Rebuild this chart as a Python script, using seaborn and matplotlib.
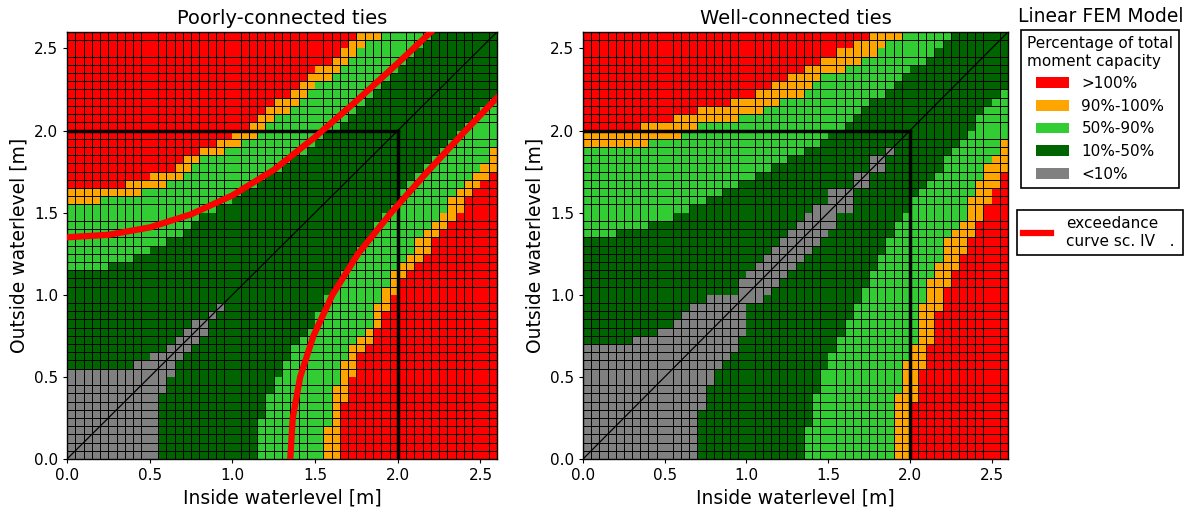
import numpy as np
import seaborn as sns
import matplotlib.pyplot as plt
from matplotlib.colors import ListedColormap
from matplotlib.patches import Patch
from matplotlib.lines import Line2D

# grid: 52 x 52 cells of 0.05 m, rows = outside level (j), cols = inside level (i)
# per row j (upper-left triangle, i <= j): index where each class ends, going from x=0
# classes: 0 >100%, 1 90-100%, 2 50-90%, 3 10-50%, 4 <10%; matrix is symmetric
n = 52
step = 0.05

# Poorly-connected ties
red_end_l = [0] * 33 + [7, 10, 13, 14, 16, 18, 20, 22, 23, 24, 25, 27, 28, 29, 30, 32, 33, 34, 35]
orange_end_l = [0] * 31 + [4, 9, 12, 14, 15, 16, 19, 21, 23, 24, 25, 27, 28, 29, 30, 32, 33, 34, 35, 36, 38]
lgreen_end_l = [0] * 23 + [5, 8, 10, 12, 14, 15, 16, 18, 20, 21, 23, 24, 26, 27, 29, 30, 31, 33, 34, 35,
                           36, 37, 38, 39, 40, 41, 42, 43, 44]
dgreen_end_l = [0] * 11 + [8, 10, 12, 13, 14, 15, 17, 18] + [52] * 33

# Well-connected ties
red_end_r = [0] * 40 + [7, 11, 14, 18, 21, 23, 25, 27, 29, 31, 33, 35]
orange_end_r = [0] * 38 + [8, 12, 14, 19, 22, 24, 27, 28, 29, 32, 34, 36, 37, 39]
lgreen_end_r = [0] * 27 + [4, 8, 11, 13, 15, 17, 19, 21, 23, 25, 27, 29, 30, 32, 33, 34, 35, 37, 38, 39,
                           40, 42, 43, 44, 45]
dgreen_end_r = [0] * 14 + [6, 9, 11, 12, 13, 15, 19, 19, 20, 21, 22, 23, 24, 25, 26, 27, 28, 30, 30, 33,
                           33, 35, 35, 37] + [52] * 14

# exceedance curve sc. IV (inside, outside) in m, left plot; second branch is mirrored
curve_x = [0.0, 0.25, 0.5, 0.75, 1.0, 1.25, 1.5, 1.75, 2.0, 2.2, 2.26]
curve_y = [1.35, 1.365, 1.41, 1.49, 1.605, 1.76, 1.96, 2.18, 2.41, 2.6, 2.66]

class_labels = ['>100%', '90%-100%', '50%-90%', '10%-50%', '<10%']
class_colors = ['#ff0000', '#ffa500', '#32cd32', '#006400', '#808080']
titles = ['Poorly-connected ties', 'Well-connected ties']
ticks = [0.0, 0.5, 1.0, 1.5, 2.0, 2.5]


def build_grid(red_end, orange_end, lgreen_end, dgreen_end):
    bounds = np.array([red_end, orange_end, lgreen_end, dgreen_end])
    grid = np.zeros((n, n), dtype=int)
    for j in range(n):
        for i in range(n):
            row, col = (j, i) if i <= j else (i, j)
            grid[j, i] = int(np.sum(col >= bounds[:, row]))
    return grid


grids = [build_grid(red_end_l, orange_end_l, lgreen_end_l, dgreen_end_l),
         build_grid(red_end_r, orange_end_r, lgreen_end_r, dgreen_end_r)]

fig = plt.figure(figsize=(11.89, 5.09), dpi=100)
axes = [fig.add_axes([67 / 1189, 50 / 509, 430 / 1189, 427 / 509]),
        fig.add_axes([583 / 1189, 50 / 509, 425 / 1189, 427 / 509])]
cmap = ListedColormap(class_colors)

for k, ax in enumerate(axes):
    sns.heatmap(grids[k], ax=ax, cmap=cmap, vmin=-0.5, vmax=4.5, cbar=False,
                linewidths=0, xticklabels=False, yticklabels=False)
    ax.invert_yaxis()
    ax.set_xlim(0, n)
    ax.set_ylim(0, n)
    s = 1 / step

    # cell borders as a minor grid on top of the cells
    ax.set_xticks(np.arange(n + 1), minor=True)
    ax.set_yticks(np.arange(n + 1), minor=True)
    ax.set_axisbelow(False)
    ax.grid(which='minor', color='black', lw=0.7)
    ax.tick_params(which='minor', length=0)

    ax.plot([0, n], [0, n], color='black', lw=0.9, zorder=3)
    ax.plot([0, 2.0 * s], [2.0 * s, 2.0 * s], color='black', lw=2.5, zorder=3)
    ax.plot([2.0 * s, 2.0 * s], [0, 2.0 * s], color='black', lw=2.5, zorder=3)
    if k == 0:
        cx = np.array(curve_x) * s
        cy = np.array(curve_y) * s
        ax.plot(cx, cy, color='red', lw=4.5, zorder=4)
        ax.plot(cy, cx, color='red', lw=4.5, zorder=4)
    ax.set_xticks(np.array(ticks) * s)
    ax.set_yticks(np.array(ticks) * s)
    ax.set_xticklabels([f'{t:.1f}' for t in ticks], fontsize=11)
    ax.set_yticklabels([f'{t:.1f}' for t in ticks], fontsize=11, rotation=0)
    ax.tick_params(which='major', direction='out', length=3, width=0.8)
    for sp in ax.spines.values():
        sp.set_visible(True)
        sp.set_color('black')
        sp.set_linewidth(1)
    ax.set_title(titles[k], fontsize=14)
    ax.set_xlabel('Inside waterlevel [m]', fontsize=13.5)
    ax.set_ylabel('Outside waterlevel [m]', fontsize=13.5)

fig.text(1101 / 1189, 1 - 17 / 509, 'Linear FEM Model', ha='center', va='center', fontsize=13.5)

patches = [Patch(facecolor=c, edgecolor='none', label=l) for c, l in zip(class_colors, class_labels)]
leg1 = fig.legend(handles=patches, title='Percentage of total\nmoment capacity', loc='upper center',
                  bbox_to_anchor=(1100 / 1189, 1 - 30 / 509),
                  fontsize=11, title_fontsize=11, fancybox=False, edgecolor='black',
                  framealpha=1, handlelength=2.2, borderaxespad=0)
leg1.get_title().set_multialignment('left')
leg1.get_frame().set_linewidth(1.2)

line = Line2D([], [], color='red', lw=4.5, label='exceedance\ncurve sc. IV   .')
leg2 = fig.legend(handles=[line], loc='upper left',
                  bbox_to_anchor=(1017 / 1189, 1 - 256 / 509, 166 / 1189, 46 / 509), mode='expand',
                  fontsize=11, fancybox=False, edgecolor='black', framealpha=1,
                  handlelength=1.8, handletextpad=1.0, borderaxespad=0)
leg2.get_frame().set_linewidth(1.2)

fig.savefig('out.png', dpi=100)
